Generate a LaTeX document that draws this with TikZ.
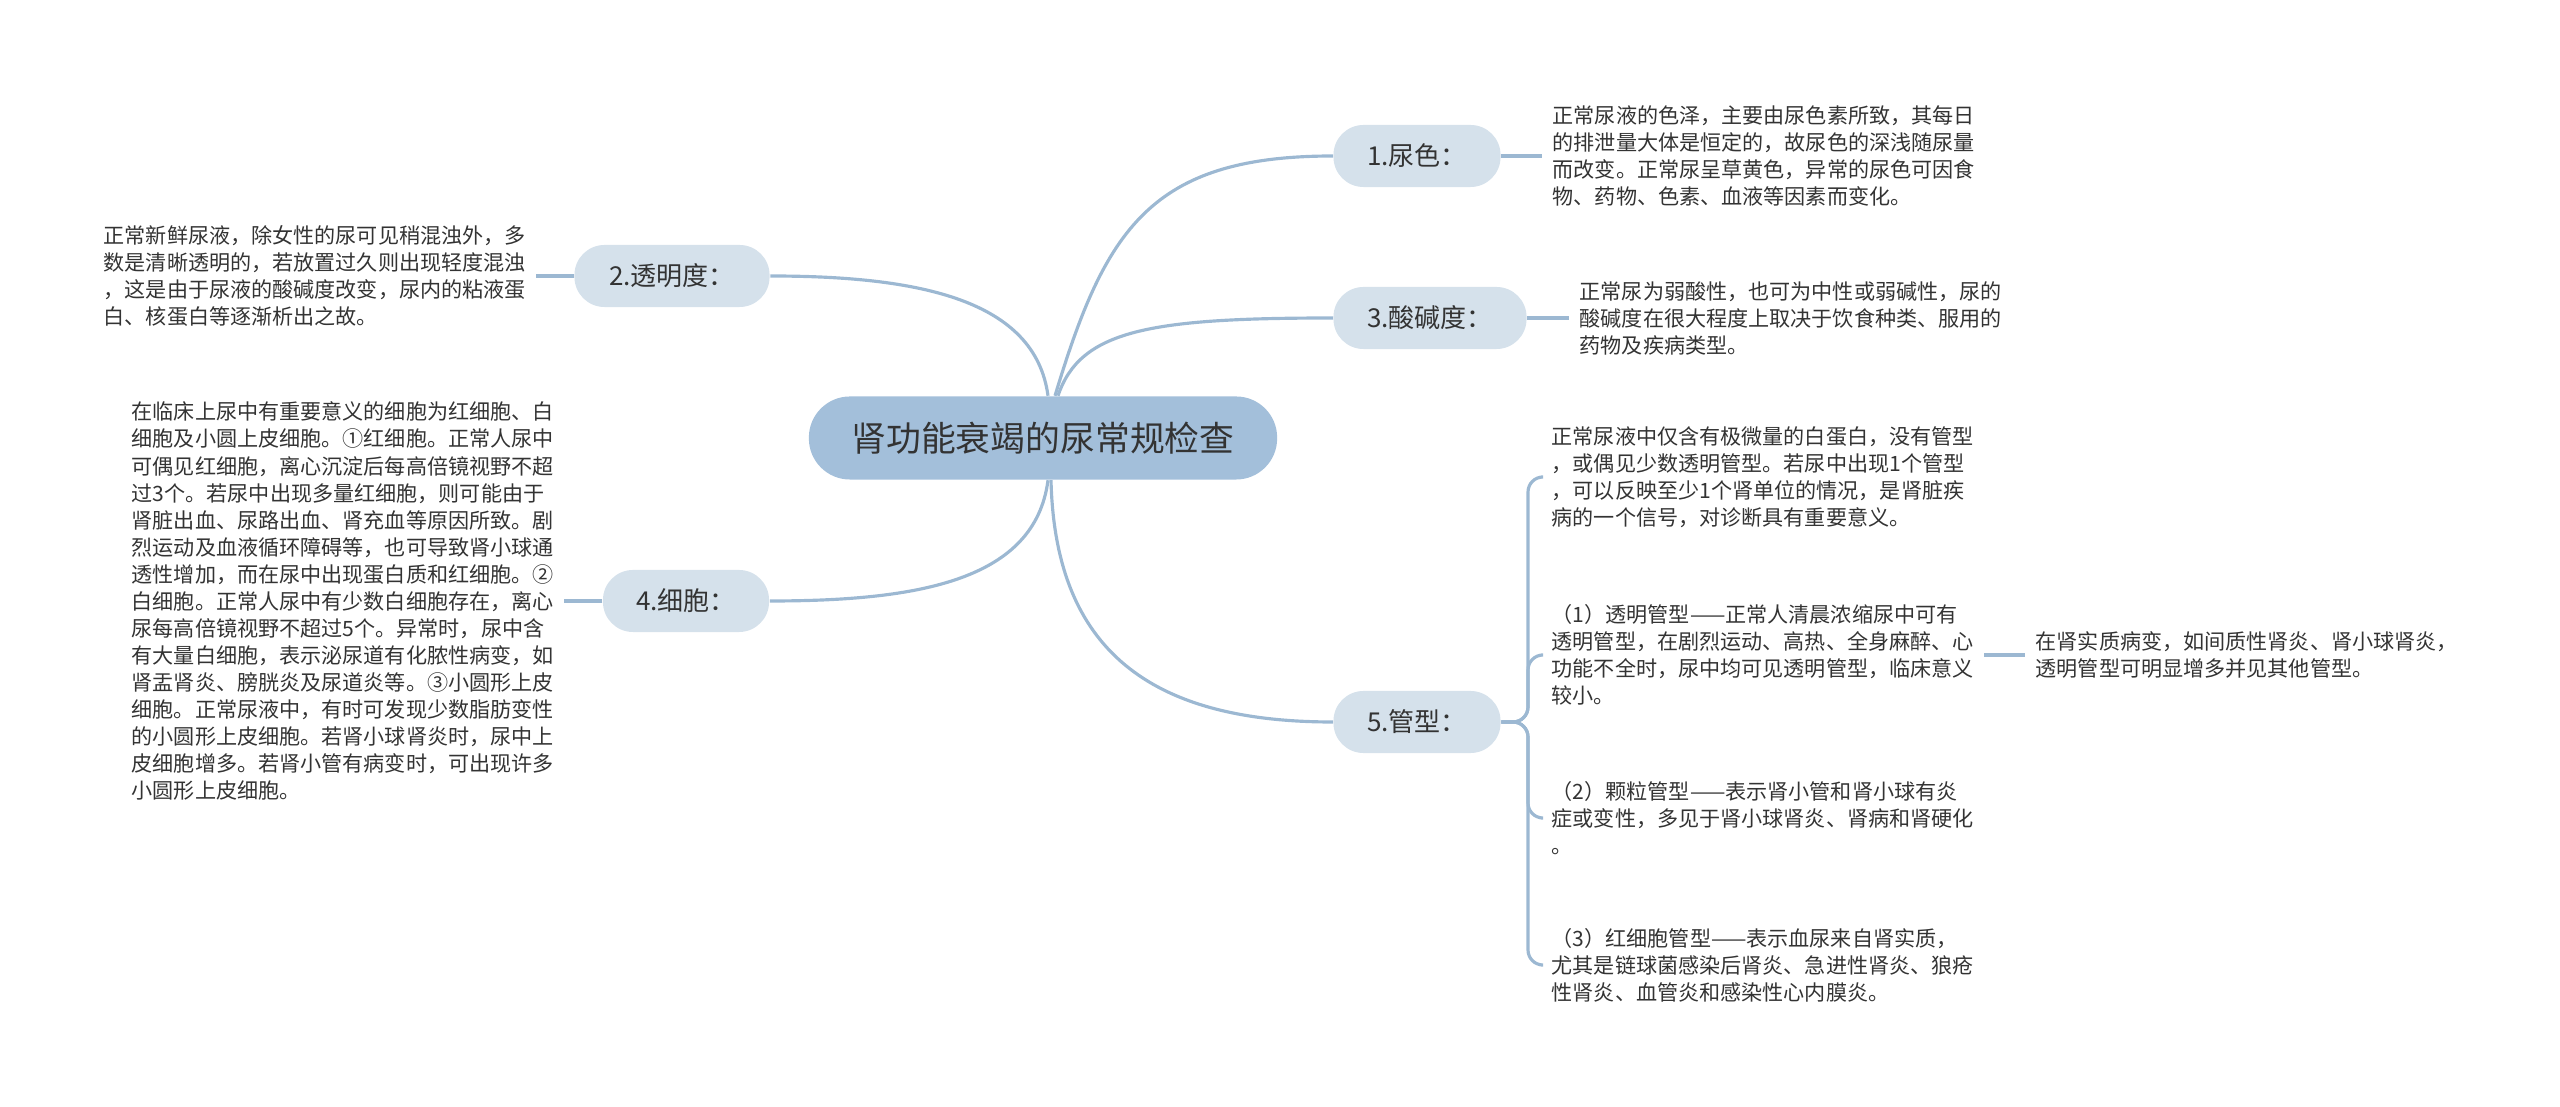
\documentclass[tikz,border=0pt]{standalone}
\usepackage{fontspec}
\setmainfont{Noto Sans CJK SC}
\definecolor{rootblue}{HTML}{A3BFDA}
\definecolor{topicblue}{HTML}{D5E1EB}
\definecolor{edgeblue}{HTML}{9CB8D2}
\definecolor{inkgrey}{HTML}{333333}
\tikzset{
  root/.style={rectangle, fill=rootblue, rounded corners=0.41cm, minimum width=4.68cm, minimum height=0.83cm, text=inkgrey, font=\fontsize{9.9pt}{12pt}\selectfont},
  topic/.style={rectangle, fill=topicblue, rounded corners=0.3cm, minimum height=0.62cm, text=inkgrey, font=\fontsize{7.4pt}{9pt}\selectfont},
  note/.style={anchor=west, align=left, inner xsep=0.1cm, inner ysep=0pt, text=inkgrey, font=\fontsize{6pt}{7.68pt}\selectfont},
  edge/.style={draw=edgeblue, line width=0.9pt}
}
\begin{document}
\begin{tikzpicture}[x=0.01cm, y=-0.01cm]
    \useasboundingbox (0,0) rectangle (2560,1107);
    \node[root] (root) at (1043,438) {肾功能衰竭的尿常规检查};
    \begin{scope}[every node/.style={topic}]
    \node[minimum width=1.67cm] (1) at (1417,156) {1.尿色：};
    \node[minimum width=1.95cm] (2) at (672,276) {2.透明度：};
    \node[minimum width=1.93cm] (3) at (1430,318) {3.酸碱度：};
    \node[minimum width=1.66cm] (4) at (686,601) {4.细胞：};
    \node[minimum width=1.67cm] (5) at (1417,722) {5.管型：};
    \end{scope}
    \begin{scope}[every node/.style={note}]
    \node (1_) at (1542,156) {正常尿液的色泽，主要由尿色素所致，其每日\\的排泄量大体是恒定的，故尿色的深浅随尿量\\而改变。正常尿呈草黄色，异常的尿色可因食\\物、药物、色素、血液等因素而变化。};
    \node (2_) at (93,276) {正常新鲜尿液，除女性的尿可见稍混浊外，多\\数是清晰透明的，若放置过久则出现轻度混浊\\，这是由于尿液的酸碱度改变，尿内的粘液蛋\\白、核蛋白等逐渐析出之故。};
    \node (3_) at (1569,318) {正常尿为弱酸性，也可为中性或弱碱性，尿的\\酸碱度在很大程度上取决于饮食种类、服用的\\药物及疾病类型。};
    \node (4_) at (121,601) {在临床上尿中有重要意义的细胞为红细胞、白\\细胞及小圆上皮细胞。①红细胞。正常人尿中\\可偶见红细胞，离心沉淀后每高倍镜视野不超\\过3个。若尿中出现多量红细胞，则可能由于\\肾脏出血、尿路出血、肾充血等原因所致。剧\\烈运动及血液循环障碍等，也可导致肾小球通\\透性增加，而在尿中出现蛋白质和红细胞。②\\白细胞。正常人尿中有少数白细胞存在，离心\\尿每高倍镜视野不超过5个。异常时，尿中含\\有大量白细胞，表示泌尿道有化脓性病变，如\\肾盂肾炎、膀胱炎及尿道炎等。③小圆形上皮\\细胞。正常尿液中，有时可发现少数脂肪变性\\的小圆形上皮细胞。若肾小球肾炎时，尿中上\\皮细胞增多。若肾小管有病变时，可出现许多\\小圆形上皮细胞。};
    \node (51_) at (1541,477) {正常尿液中仅含有极微量的白蛋白，没有管型\\，或偶见少数透明管型。若尿中出现1个管型\\，可以反映至少1个肾单位的情况，是肾脏疾\\病的一个信号，对诊断具有重要意义。};
    \node (52_) at (1541,655) {（1）透明管型——正常人清晨浓缩尿中可有\\透明管型，在剧烈运动、高热、全身麻醉、心\\功能不全时，尿中均可见透明管型，临床意义\\较小。};
    \node (52__) at (2025,655) {在肾实质病变，如间质性肾炎、肾小球肾炎，\\透明管型可明显增多并见其他管型。};
    \node (53_) at (1541,818) {（2）颗粒管型——表示肾小管和肾小球有炎\\症或变性，多见于肾小球肾炎、肾病和肾硬化\\。};
    \node (54_) at (1541,965) {（3）红细胞管型——表示血尿来自肾实质，\\尤其是链球菌感染后肾炎、急进性肾炎、狼疮\\性肾炎、血管炎和感染性心内膜炎。};
    \end{scope}
    \coordinate (5j) at (1528,722);
    % main branches
    \begin{scope}[edge]
      \draw ([xshift=0.12cm]root.north) .. controls (1105,230) and (1150,156) .. (1.west);
      \draw ([xshift=0.15cm]root.north) .. controls (1080,330) and (1150,318) .. (3.west);
      \draw ([xshift=0.08cm]root.south) .. controls (1055,650) and (1150,722) .. (5.west);
      \draw ([xshift=0.05cm]root.north) .. controls (1035,300) and (920,276) .. (2.east);
      \draw ([xshift=0.05cm]root.south) .. controls (1035,580) and (920,601) .. (4.east);
    \end{scope}
    % notes
    \begin{scope}[edge]
      \draw (1.east) -- (1_.west);
      \draw (3.east) -- (3_.west);
      \draw (2.west) -- (2_.east);
      \draw (4.west) -- (4_.east);
      \draw (52_.east) -- (52__.west);
    \end{scope}
    \begin{scope}[edge, rounded corners=0.15cm]
      \draw (5.east) -- (5j) |- (51_.west);
      \draw (5.east) -- (5j) |- (52_.west);
      \draw (5.east) -- (5j) |- (53_.west);
      \draw (5.east) -- (5j) |- (54_.west);
    \end{scope}
  \end{tikzpicture}
\end{document}
